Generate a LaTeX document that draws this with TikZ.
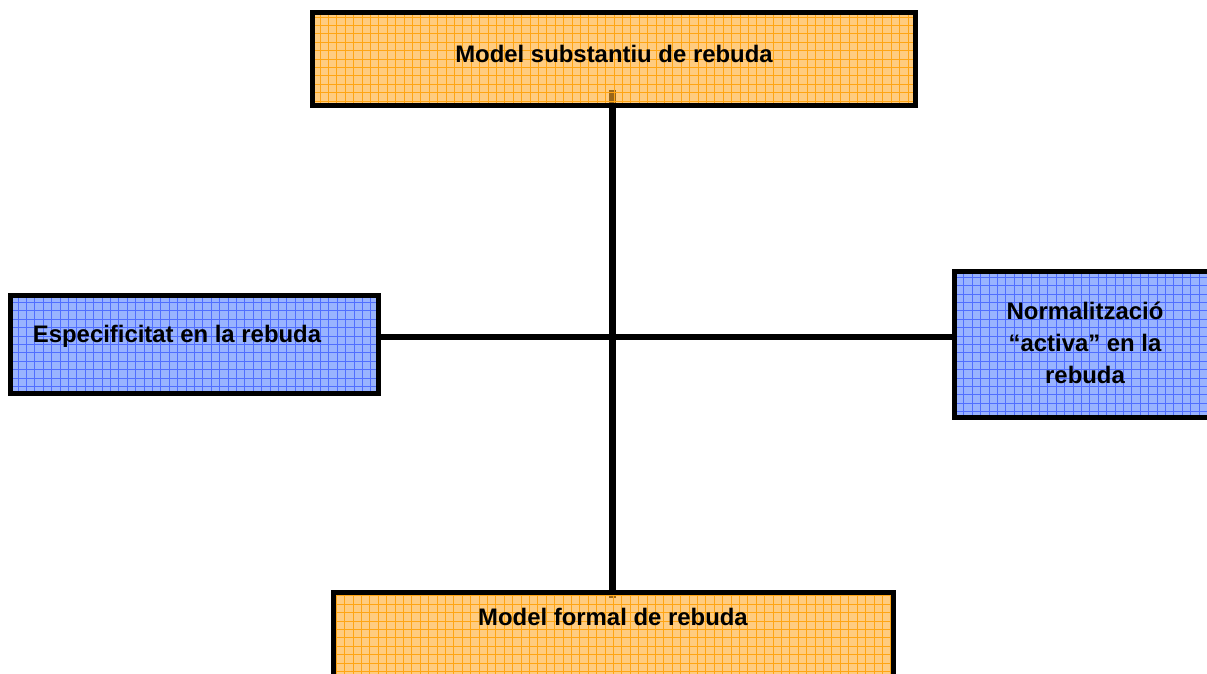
\documentclass[tikz,border=0pt]{standalone}
\usepackage{fontspec}
\setmainfont{Liberation Sans}
\usetikzlibrary{backgrounds}
\definecolor{orangefill}{RGB}{255,170,43}
\definecolor{orangeline}{RGB}{255,165,20}
\definecolor{bluefill}{RGB}{85,128,255}
\definecolor{blueline}{RGB}{80,110,255}
\begin{document}
\begin{tikzpicture}[
  panel/.style={draw=black,line width=3.5pt,fill=#1fill,fill opacity=0.6,
    inner sep=0pt,
    path picture={\draw[#1line,line width=0.6pt,step=0.21cm]
      (path picture bounding box.south west) grid
      (path picture bounding box.north east);}},
  lbl/.style={font=\fontsize{17}{23}\selectfont\bfseries,align=center,inner sep=0pt},
  link/.style={line width=4.3pt}]
\useasboundingbox (0,0) rectangle (30.175,16.825);
\clip (0,0) rectangle (30.175,16.825);
\node[panel=orange,minimum width=15.075cm,minimum height=2.325cm] (substantiu)
  at (15.35,15.35) {};
\node[panel=blue,minimum width=9.2cm,minimum height=2.45cm] (especificitat)
  at (4.8625,8.2125) {};
\node[panel=blue,minimum width=6.7625cm,minimum height=3.65cm] (normalitzacio)
  at (27.24375,8.2125) {};
\node[panel=orange,minimum width=14cm,minimum height=2.6875cm] (formal)
  at (15.3375,0.66875) {};
\node[lbl] (substantiuText) at (15.35,15.475) {Model substantiu de rebuda};
\node[lbl] (especificitatText) at (4.425,8.425) {Especificitat en la rebuda};
\node[lbl] (normalitzacioText) at (27.125,8.25)
  {Normalització\\“activa” en la\\rebuda};
\node[lbl] (formalText) at (15.325,1.4) {Model formal de rebuda};
\coordinate (hub) at (15.3125,8.4);
\begin{scope}[on background layer]
\draw[link] ([yshift=0.45cm]substantiu.south -| hub) -- ([yshift=-0.2cm]formal.north -| hub);
\draw[link] ([xshift=-0.125cm]especificitat.east |- hub) -- (normalitzacio.west |- hub);
\end{scope}
\end{tikzpicture}
\end{document}
